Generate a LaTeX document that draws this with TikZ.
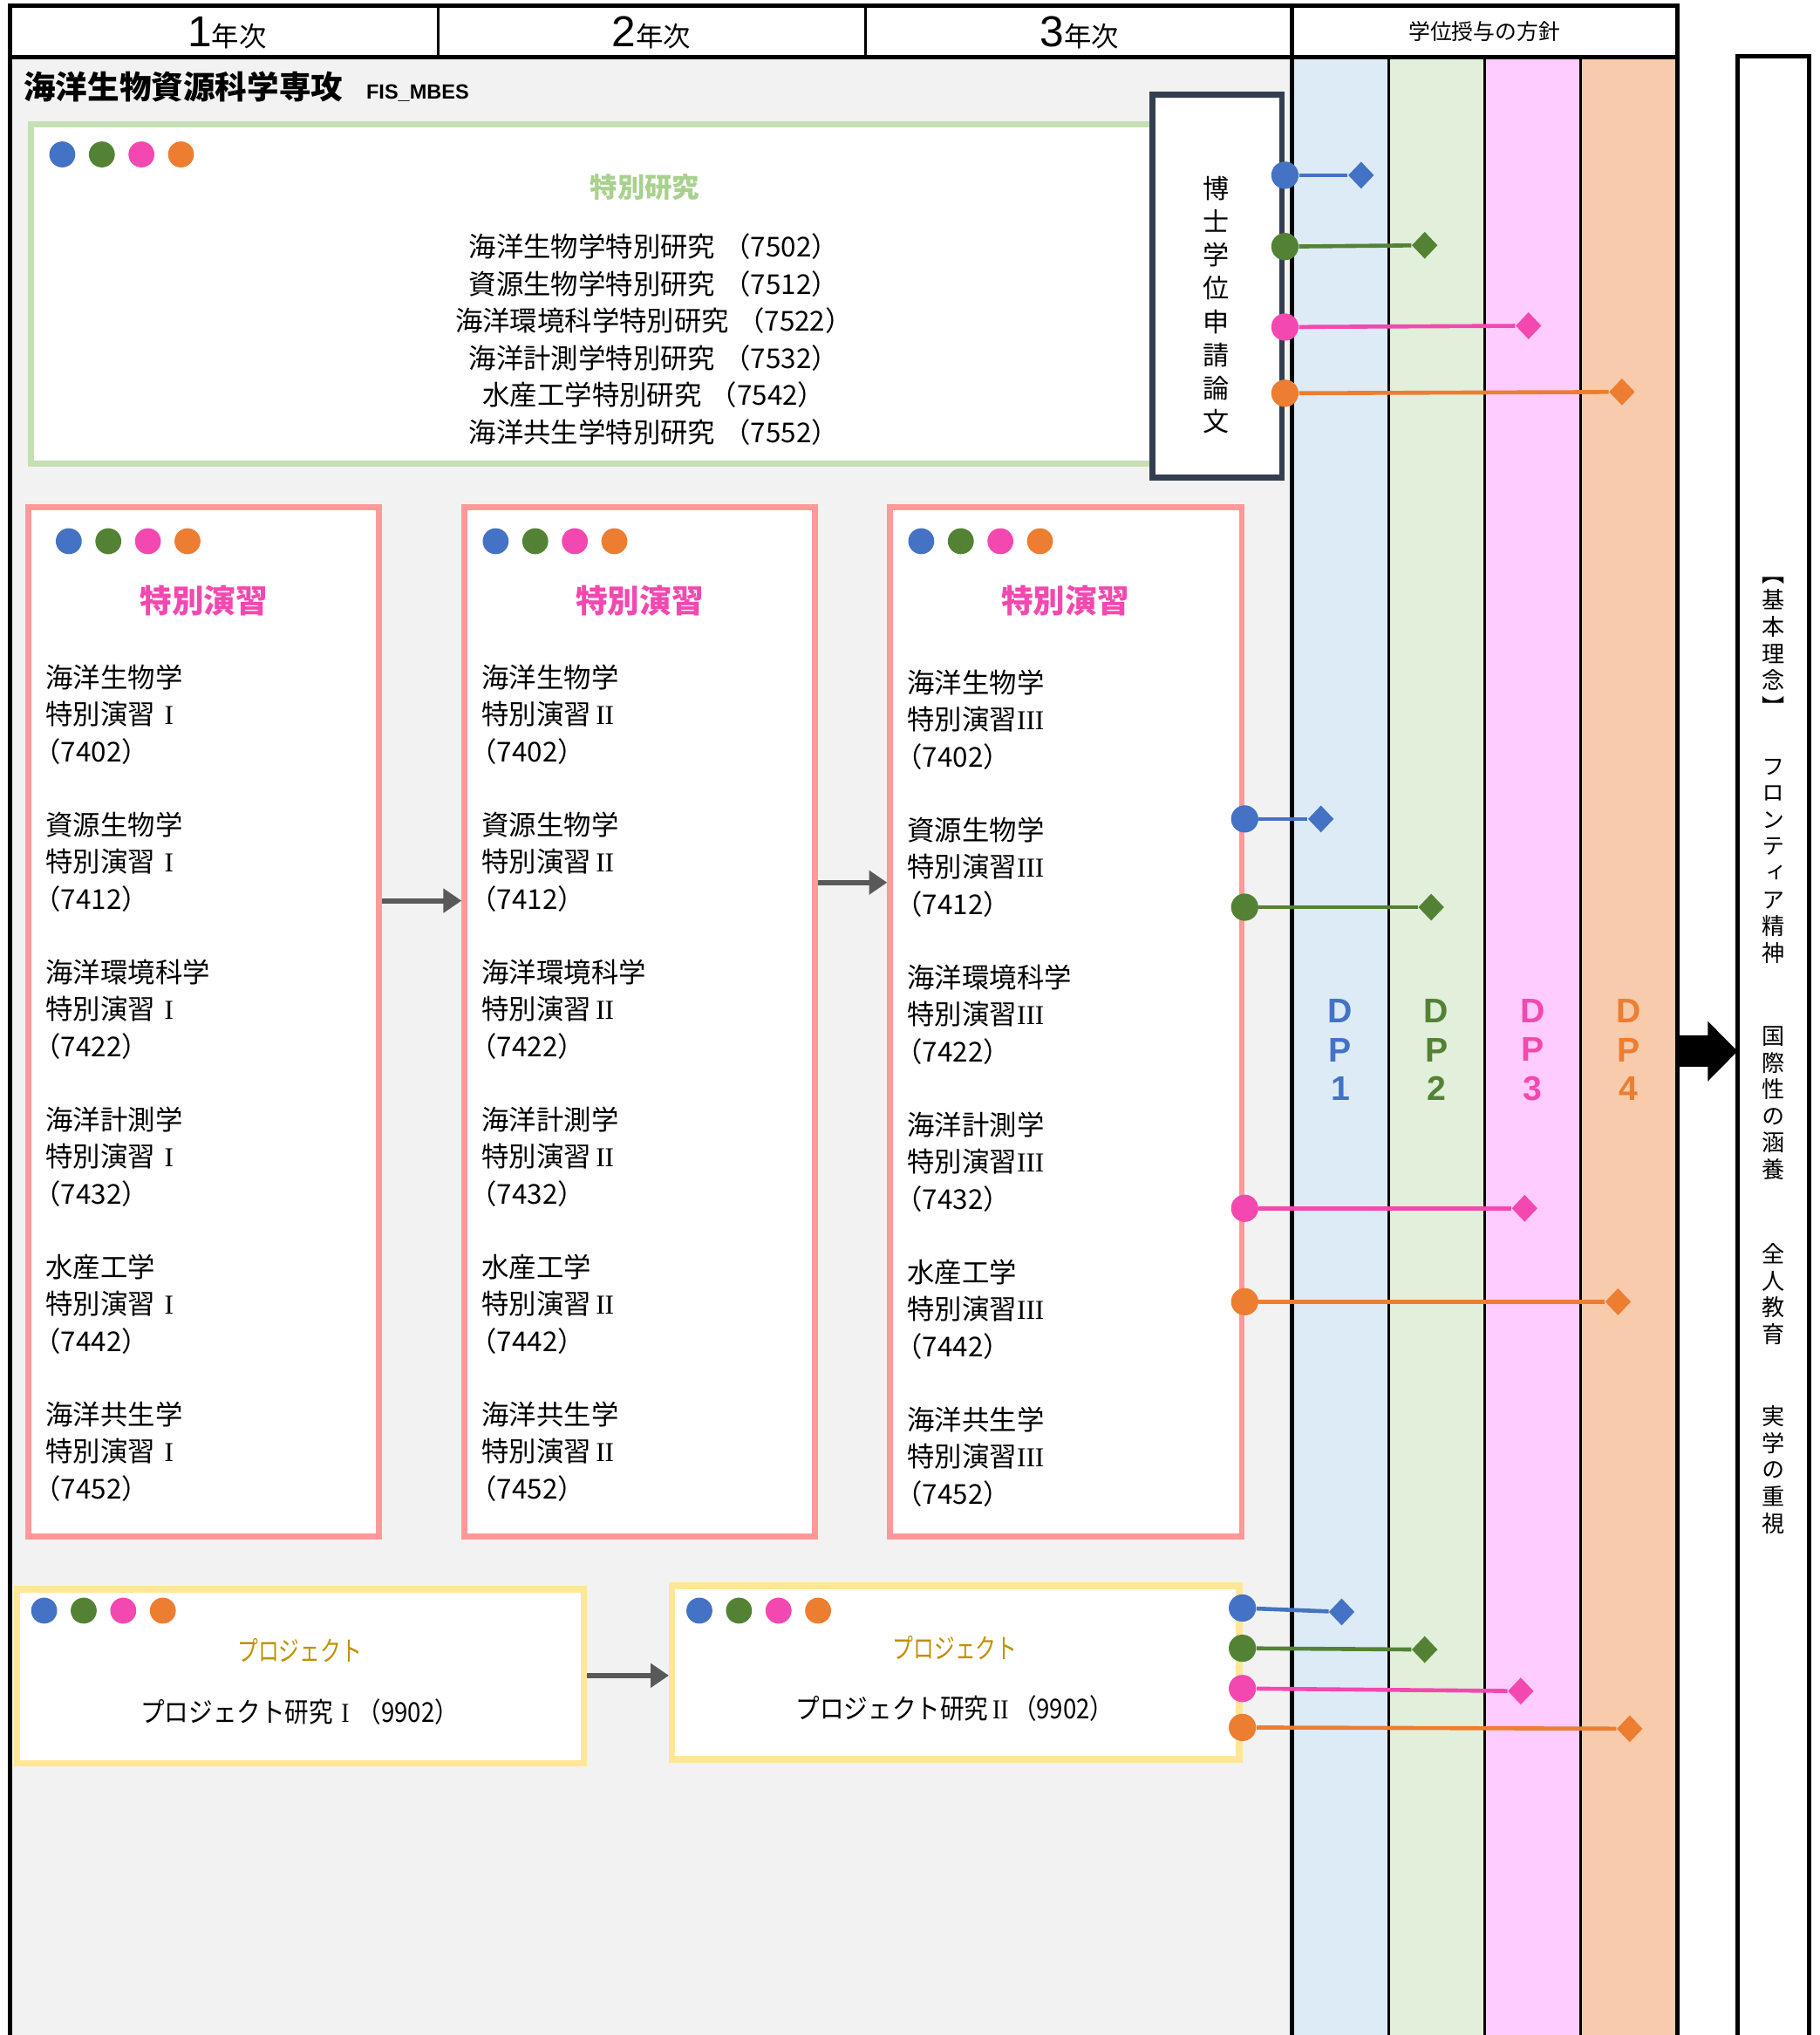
\documentclass[tikz,border=0pt]{standalone}
\usepackage{fontspec}
\usepackage{graphicx}
\setmainfont{Noto Sans CJK JP}
\newfontfamily\latinfont{Liberation Sans}
\newfontfamily\serifnum{Liberation Serif}
\newfontfamily\vertfont[RawFeature=+vert]{Noto Sans CJK JP}
\usetikzlibrary{arrows.meta,shapes.geometric,fit}
\definecolor{bggray}{HTML}{F2F2F2}
\definecolor{dpblue}{HTML}{4472C4}
\definecolor{dpgreen}{HTML}{548235}
\definecolor{dppink}{HTML}{F348B0}
\definecolor{dporange}{HTML}{ED7D31}
\definecolor{colblue}{HTML}{DDEBF7}
\definecolor{colgreen}{HTML}{E2EFDA}
\definecolor{colpink}{HTML}{FFCCFF}
\definecolor{colorange}{HTML}{F8CBAD}
\definecolor{resline}{HTML}{C5E0B4}
\definecolor{restitle}{HTML}{A9D18E}
\definecolor{exline}{HTML}{FF9999}
\definecolor{prline}{HTML}{FFE699}
\definecolor{prtitlecol}{HTML}{BF9000}
\definecolor{thesisline}{HTML}{333F50}
\definecolor{flowgray}{HTML}{595959}
\begin{document}
\begin{tikzpicture}[x=0.02cm,y=-0.02cm,
  gridthick/.style={line width=0.068cm},
  gridthin/.style={line width=0.04cm},
  resbox/.style={draw=resline,line width=0.09cm,fill=white,inner sep=0pt},
  exbox/.style={draw=exline,line width=0.09cm,fill=white,inner sep=0pt},
  prbox/.style={draw=prline,line width=0.1cm,fill=white,inner sep=0pt},
  thesisbox/.style={draw=thesisline,line width=0.09cm,fill=white,inner sep=0pt},
  extitle/.style={font=\fontsize{14}{16}\selectfont\bfseries,text=dppink},
  extext/.style={font=\fontsize{12}{16.2}\selectfont,align=left,inner sep=0pt,anchor=west},
  reslist/.style={font=\fontsize{12}{16.3}\selectfont,align=center},
  prtitle/.style={font=\fontsize{12}{14}\selectfont,text=prtitlecol},
  prtext/.style={font=\fontsize{12}{14}\selectfont},
  vtext/.style={font=\fontsize{11.5}{14.6}\selectfont,align=center},
  philotext/.style={font=\vertfont\fontsize{10}{11.7}\selectfont,align=center},
  dplabel/.style={text=#1,font={\latinfont\bfseries\fontsize{15}{17}\selectfont},align=center},
  dpdot/.style={circle,fill=#1,inner sep=0pt,minimum size=0.42cm},
  dptip/.style={diamond,fill=#1,inner sep=0pt,minimum width=0.4cm,minimum height=0.42cm},
  dplink/.style={draw=#1,line width=0.062cm},
  flow/.style={draw=flowgray,line width=0.08cm,-{Triangle[length=0.28cm,width=0.36cm]}},
  yearhead/.style={font=\fontsize{12}{14}\selectfont}]
  \useasboundingbox (0,0) rectangle (1402,1568);
  % 背景
  \fill[bggray] (8,44) rectangle (996,1568);
  \fill[colblue] (996,44) rectangle (1070,1568);
  \fill[colgreen] (1070,44) rectangle (1144,1568);
  \fill[colpink] (1144,44) rectangle (1218,1568);
  \fill[colorange] (1218,44) rectangle (1293,1568);
  % 罫線
  \draw[gridthin] (338,4) -- (338,44) (667,4) -- (667,44);
  \draw[gridthin] (1070,44) -- (1070,1568) (1144,44) -- (1144,1568) (1218,44) -- (1218,1568);
  \draw[gridthick] (7.5,1568) -- (7.5,4.5) -- (1293,4.5) -- (1293,1568);
  \draw[gridthick] (7.5,44) -- (1293,44);
  \draw[gridthick] (996,4.5) -- (996,1568);
  % 見出し
  \node[yearhead] (year1) at (175,25) {{\latinfont\fontsize{19}{20}\selectfont 1}年次};
  \node[yearhead] (year2) at (502,25) {{\latinfont\fontsize{19}{20}\selectfont 2}年次};
  \node[yearhead] (year3) at (832,25) {{\latinfont\fontsize{19}{20}\selectfont 3}年次};
  \node[font=\fontsize{9.5}{11}\selectfont] (dphead) at (1144,24) {学位授与の方針};
  \node[anchor=base west,inner sep=0pt,font=\fontsize{14}{16}\selectfont\bfseries] (major) at (18,76) {海洋生物資源科学専攻};
  \node[anchor=base west,inner sep=0pt,font={\latinfont\bfseries\fontsize{9}{11}\selectfont}] (majorcode) at (282,76) {FIS\_MBES};
  % 特別研究
  \node[resbox,fit={(24,96) (900,357)}] (research) {};
  \node[thesisbox,fit={(888,73) (988,368)}] (thesis) {};
  \node[font=\fontsize{12}{14}\selectfont\bfseries,text=restitle] (restitle) at (497,144) {特別研究};
  \node[reslist] (reslist) at (504,261.5) {海洋生物学特別研究\hspace{0.3em}（7502）\\資源生物学特別研究\hspace{0.3em}（7512）\\海洋環境科学特別研究\hspace{0.3em}（7522）\\海洋計測学特別研究\hspace{0.3em}（7532）\\水産工学特別研究\hspace{0.3em}（7542）\\海洋共生学特別研究\hspace{0.3em}（7552）};
  \node[vtext] (thesistext) at (937,235) {博\\士\\学\\位\\申\\請\\論\\文};
  % 特別演習
  \foreach \ei/\xl/\xr in {1/22/292,2/358/628,3/686/957}
    \node[exbox,fit={(\xl,391) (\xr,1184)}] (ex\ei) {};
  \node[extitle] (ex1title) at (157,463) {特別演習};
  \node[extitle] (ex2title) at (493,463) {特別演習};
  \node[extitle] (ex3title) at (821,463) {特別演習};
  \foreach \ei/\tx/\ty/\lvl in {1/35/550.5/I,2/371/550.5/II,3/699/554.5/III}
    \foreach \subj/\code [count=\i from 0] in {海洋生物学/7402,資源生物学/7412,海洋環境科学/7422,海洋計測学/7432,水産工学/7442,海洋共生学/7452}
      \node[extext] (ex\ei-\i) at (\tx,{\ty+113.6*\i}) {\subj\\特別演習\makebox[1em][c]{\serifnum\lvl}\\\kern-0.45em（\code）};
  % プロジェクト
  \node[prbox,fit={(13,1224.5) (450,1358.5)}] (pr1) {};
  \node[prbox,fit={(518,1222) (955,1355.5)}] (pr2) {};
  \node[prtitle] (pr1title) at (231,1272) {\scalebox{0.76}[1]{プロジェクト}};
  \node[prtext] (pr1text) at (231,1319) {\scalebox{0.88}[1]{プロジェクト研究\makebox[1em][c]{\serifnum I}（9902）}};
  \node[prtitle] (pr2title) at (736,1270) {\scalebox{0.76}[1]{プロジェクト}};
  \node[prtext] (pr2text) at (736,1316) {\scalebox{0.88}[1]{プロジェクト研究\makebox[1em][c]{\serifnum II}（9902）}};
  % 色の丸
  \foreach \bx/\by in {48/119,53/417,382/417,710/417,34/1241,539/1241}
    \foreach \col [count=\k from 0] in {dpblue,dpgreen,dppink,dporange}
      \fill[\col] ({\bx+30.5*\k},\by) circle (0.2cm);
  % 流れ
  \draw[flow] (ex1.east |- 0,694) -- (ex2.west |- 0,694);
  \draw[flow] (ex2.east |- 0,680) -- (ex3.west |- 0,680);
  \draw[flow] (pr1.east |- 0,1291) -- (pr2.west |- 0,1291);
  % DP
  \foreach \col/\x/\n in {dpblue/1033/1,dpgreen/1107/2,dppink/1181/3,dporange/1255/4}
    \node[dplabel=\col] (dp\n) at (\x,809) {D\\P\\\n};
  \foreach \col/\src/\ya/\xb/\yb [count=\i] in {
    dpblue/thesis/135/1049/135,dpgreen/thesis/190/1098/189,dppink/thesis/252/1178/251,dporange/thesis/303/1250/302,
    dpblue/ex3/631/1018/631,dpgreen/ex3/699/1103/699,dppink/ex3/931/1175/931,dporange/ex3/1003/1247/1003,
    dpblue/pr2/1239/1034/1242,dpgreen/pr2/1270/1098/1271,dppink/pr2/1301/1172/1303,dporange/pr2/1331/1256/1332}{
    \node[dpdot=\col] (from\i) at (\src.east |- 0,\ya) {};
    \node[dptip=\col] (to\i) at (\xb,\yb) {};
    \draw[dplink=\col] (from\i) -- (to\i);
  }
  % 基本理念
  \node[fit={(1339.5,44) (1394,1575)},inner sep=0pt] (philo) {};
  \draw[gridthick] (philo.south west) -- (philo.north west) -- (philo.north east) -- (philo.south east);
  \coordinate (dpright) at (1293,810);
  \draw[line width=0.48cm,-{Triangle[length=0.46cm,width=0.9cm]}] (dpright) -- (philo.west |- dpright);
  \node[philotext] (ideal) at (1366.5,498) {【\\基\\本\\理\\念\\】};
  \node[philotext] (frontier) at (1366.5,663.5) {フ\\ロ\\ン\\テ\\ィ\\ア\\精\\神};
  \node[philotext] (global) at (1366.5,850) {国\\際\\性\\の\\涵\\養};
  \node[philotext] (whole) at (1366.5,997) {全\\人\\教\\育};
  \node[philotext] (practical) at (1366.5,1132.5) {実\\学\\の\\重\\視};
\end{tikzpicture}
\end{document}
